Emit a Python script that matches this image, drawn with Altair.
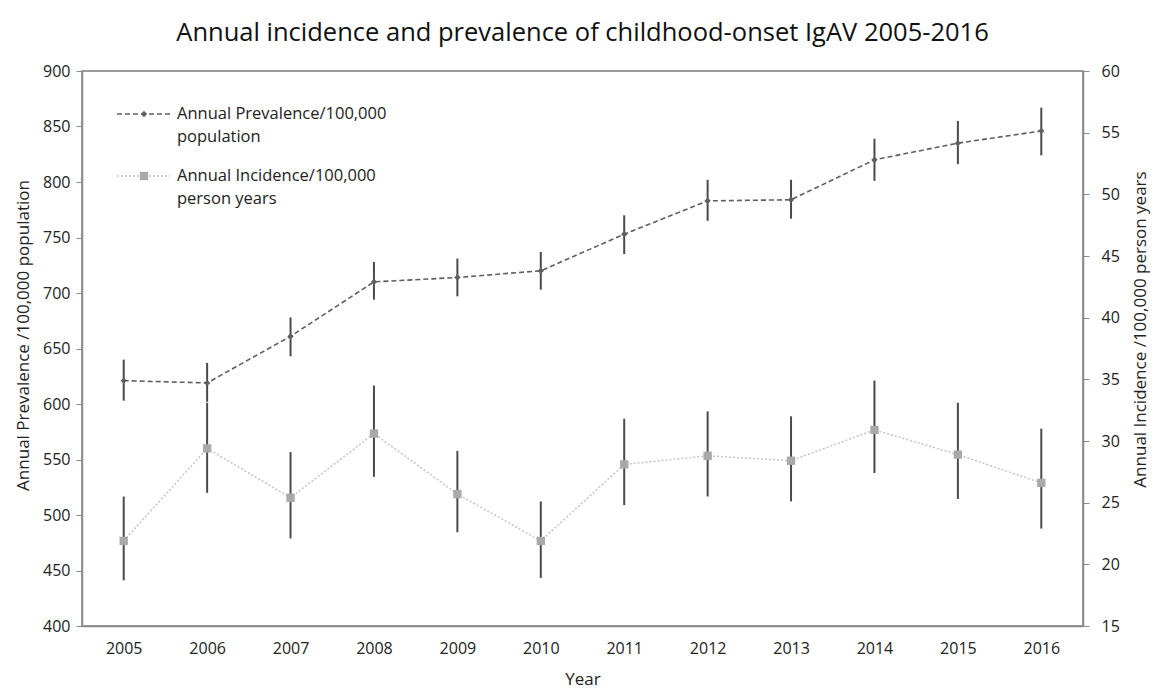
import altair as alt
import pandas as pd

# Annual figures, childhood-onset IgAV
years = [2005, 2006, 2007, 2008, 2009, 2010, 2011, 2012, 2013, 2014, 2015, 2016]

prevalence = [621, 619, 661, 710, 714, 720, 753, 783, 784, 820, 835, 846]
prevalence_lo = [603, 602, 643, 694, 697, 703, 735, 765, 767, 801, 816, 824]
prevalence_hi = [640, 637, 678, 728, 731, 737, 770, 802, 802, 839, 855, 867]

incidence = [21.9, 29.4, 25.4, 30.6, 25.7, 21.9, 28.1, 28.8, 28.4, 30.9, 28.9, 26.6]
incidence_lo = [18.7, 25.8, 22.1, 27.1, 22.6, 18.9, 24.8, 25.5, 25.1, 27.4, 25.3, 22.9]
incidence_hi = [25.5, 33.1, 29.1, 34.5, 29.2, 25.1, 31.8, 32.4, 32.0, 34.9, 33.1, 31.0]

df = pd.DataFrame({
    "year": years,
    "prev": prevalence, "prev_lo": prevalence_lo, "prev_hi": prevalence_hi,
    "inc": incidence, "inc_lo": incidence_lo, "inc_hi": incidence_hi,
})

FONT = "Open Sans"
AXIS_GREY = "#8a8a8a"
ERR = "#4a4a4a"
PREV_COL = "#5f5f5f"
INC_LINE = "#c4c4c4"
INC_MARK = "#a9a9a9"

x = alt.X(
    "year:O",
    scale=alt.Scale(type="point", padding=0.5),
    axis=alt.Axis(title="Year", labelAngle=0, ticks=False, labelPadding=14,
                  titlePadding=15, domainColor=AXIS_GREY, domainWidth=1.5),
)

y_prev = alt.Y(
    "prev:Q",
    scale=alt.Scale(domain=[400, 900], nice=False, zero=False),
    axis=alt.Axis(title="Annual Prevalence /100,000 population", orient="left",
                  values=list(range(400, 901, 50)), grid=False, tickSize=6,
                  labelPadding=6, titlePadding=10, titleY=264, domainColor=AXIS_GREY,
                  tickColor=AXIS_GREY, domainWidth=1.5),
)

y_inc = alt.Y(
    "inc:Q",
    scale=alt.Scale(domain=[15, 60], nice=False, zero=False),
    axis=alt.Axis(title="Annual Incidence /100,000 person years", orient="right",
                  values=list(range(15, 61, 5)), grid=False, tickSize=6,
                  labelPadding=12, titleAngle=270, titleX=57, titleY=258,
                  titleAlign="center", titleBaseline="middle",
                  domainColor=AXIS_GREY, tickColor=AXIS_GREY, domainWidth=1.5),
)

base = alt.Chart(df)

prev_layer = alt.layer(
    base.mark_rule(color=ERR, strokeWidth=2).encode(
        x=x, y=alt.Y("prev_lo:Q", scale=alt.Scale(domain=[400, 900], nice=False, zero=False)),
        y2="prev_hi:Q"),
    base.mark_line(color=PREV_COL, strokeWidth=1.6, strokeDash=[5, 3]).encode(x=x, y=y_prev),
    base.mark_point(shape="diamond", filled=True, size=40, color=PREV_COL, opacity=1).encode(x=x, y=y_prev),
)

inc_layer = alt.layer(
    base.mark_rule(color=ERR, strokeWidth=2).encode(
        x=x, y=alt.Y("inc_lo:Q", scale=alt.Scale(domain=[15, 60], nice=False, zero=False)),
        y2="inc_hi:Q"),
    base.mark_line(color=INC_LINE, strokeWidth=1.5, strokeDash=[2, 2]).encode(x=x, y=y_inc),
    base.mark_point(shape="square", filled=True, size=70, color=INC_MARK, opacity=1).encode(x=x, y=y_inc),
)

# Hand-drawn key in the upper-left corner of the plot
one = alt.Data(values=[{}])
key_text_style = dict(font=FONT, fontSize=16.5, color="#222222", align="left",
                      baseline="middle", lineHeight=23)
key = alt.layer(
    alt.Chart(one).mark_rule(color=PREV_COL, strokeWidth=1.6, strokeDash=[5, 3]).encode(
        x=alt.value(35), x2=alt.value(88), y=alt.value(43)),
    alt.Chart(one).mark_point(shape="diamond", filled=True, size=40, color=PREV_COL, opacity=1).encode(
        x=alt.value(62), y=alt.value(43)),
    alt.Chart(one).mark_text(text=["Annual Prevalence/100,000", "population"], **key_text_style).encode(
        x=alt.value(95), y=alt.value(43)),
    alt.Chart(one).mark_rule(color=INC_LINE, strokeWidth=1.5, strokeDash=[2, 2]).encode(
        x=alt.value(35), x2=alt.value(88), y=alt.value(105)),
    alt.Chart(one).mark_point(shape="square", filled=True, size=70, color=INC_MARK, opacity=1).encode(
        x=alt.value(62), y=alt.value(105)),
    alt.Chart(one).mark_text(text=["Annual Incidence/100,000", "person years"], **key_text_style).encode(
        x=alt.value(95), y=alt.value(105)),
)

chart = alt.layer(prev_layer, inc_layer, key).resolve_scale(y="independent").properties(
    width=1001,
    height=555,
    title=alt.TitleParams("Annual incidence and prevalence of childhood-onset IgAV 2005-2016",
                          font=FONT, fontSize=25.5, fontWeight="normal", color="#111111",
                          anchor="middle", offset=17),
    autosize=alt.AutoSizeParams(type="none"),
    padding={"left": 82, "top": 71, "right": 69, "bottom": 63},
    background="white",
).configure_view(
    stroke="#7a7a7a", strokeWidth=1.5
).configure_axis(
    labelFont=FONT, labelFontSize=16, labelColor="#222222",
    titleFont=FONT, titleFontSize=17, titleFontWeight="normal", titleColor="#222222",
)

chart.save("out.html", embed_options={"renderer": "svg", "actions": False})
